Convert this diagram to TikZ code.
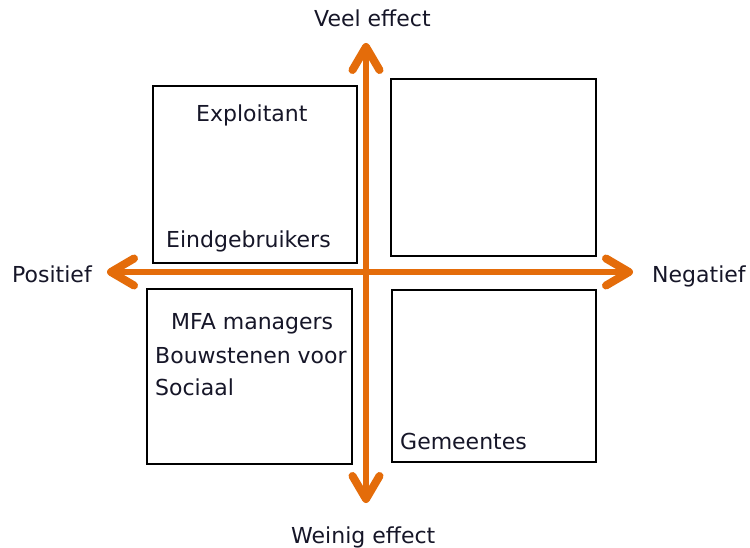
\documentclass[tikz,border=0pt]{standalone}
\usepackage{fontspec}
\setmainfont{DejaVu Sans}
\usetikzlibrary{arrows.meta}
\definecolor{axisorange}{RGB}{228,108,10}
\definecolor{labelink}{RGB}{22,22,40}
\begin{document}
\begin{tikzpicture}[x=1pt,y=-1pt,
  quad/.style={draw=black, line width=1.8pt, rectangle, inner sep=0pt},
  lbl/.style={font=\fontsize{22}{27}\selectfont, text=labelink, inner sep=0pt, anchor=base west},
  axis/.style={draw=axisorange, line width=6.5pt,
    >={Straight Barb[length=23pt,width=27pt,line width=8pt,round]}, <->}]
  % canvas
  \fill[white] (0,0) rectangle (750,548);
  \useasboundingbox (0,0) rectangle (750,548);

  % the four quadrant boxes
  \node[quad, minimum width=204pt, minimum height=177pt] (tl) at (255,174.5) {};
  \node[quad, minimum width=205pt, minimum height=177pt] (tr) at (493.5,167.5) {};
  \node[quad, minimum width=205pt, minimum height=175pt] (bl) at (249.5,376.5) {};
  \node[quad, minimum width=204pt, minimum height=172pt] (br) at (494,376) {};

  % axis end points
  \coordinate (vtop) at (366,43);
  \coordinate (vbot) at (366,503);
  \coordinate (hleft) at (107,272);
  \coordinate (hright) at (633,272);

  % axes
  \draw[axis] (hleft) -- (hright);
  \draw[axis] (vbot) -- (vtop);

  % axis labels
  \node[lbl] (veel) at (314,27) {Veel effect};
  \node[lbl] (weinig) at (291,543) {Weinig effect};
  \node[lbl] (pos) at (12,283) {Positief};
  \node[lbl] (neg) at (652,283) {Negatief};

  % quadrant contents
  \node[lbl] (expl) at (196,122) {Exploitant};
  \node[lbl] (eind) at (166,248) {Eindgebruikers};
  \node[lbl] (mfa) at (171,330) {MFA managers};
  \node[lbl] (bouw) at (155,363) {Bouwstenen voor};
  \node[lbl] (soc) at (155,395) {Sociaal};
  \node[lbl] (gem) at (400,449) {Gemeentes};
\end{tikzpicture}
\end{document}
